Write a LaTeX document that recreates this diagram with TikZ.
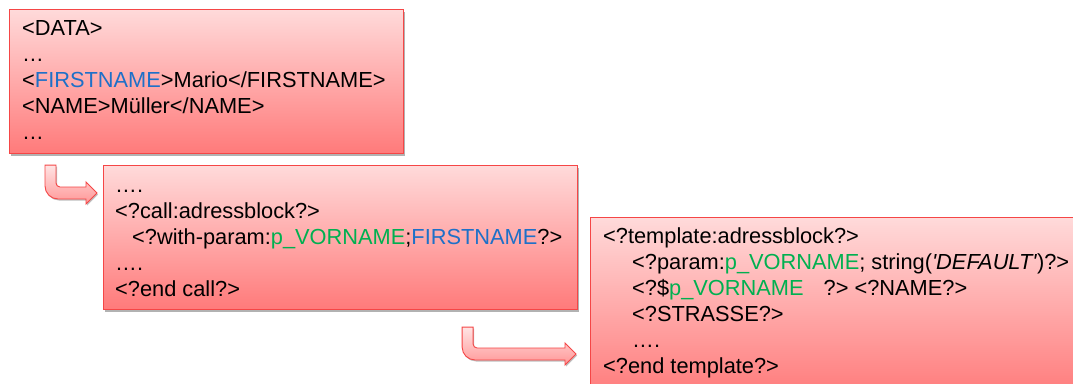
\documentclass[tikz,border=0pt]{standalone}
\usepackage{fontspec}
\setmainfont{Liberation Sans}
\usetikzlibrary{calc,shadows}
\definecolor{boxred}{RGB}{245,70,70}
\definecolor{boxtop}{RGB}{255,218,218}
\definecolor{boxbot}{RGB}{255,122,122}
\definecolor{arrtop}{RGB}{255,228,228}
\definecolor{arrbot}{RGB}{255,150,150}
\definecolor{fnblue}{RGB}{30,112,200}
\definecolor{vngreen}{RGB}{0,176,80}
\newcommand{\blu}[1]{\textcolor{fnblue}{#1}}
\newcommand{\grn}[1]{\textcolor{vngreen}{#1}}
\newcommand{\bentarrow}[2]{%
  \draw[benda] ($(#1)+(-5.5,0)$) -- ($(#1)+(5.5,0)$)
    [rounded corners=4pt] -- ($(#1|-#2)+(5.5,-6)$)
    [sharp corners] -- ($(#2)+(-11,-6)$) -- ($(#2)+(-11,-11)$) -- (#2) -- ($(#2)+(-11,11)$) -- ($(#2)+(-11,6)$)
    [rounded corners=13pt] -- ($(#1|-#2)+(-5.5,6)$)
    [sharp corners] -- ($(#1)+(-5.5,0)$) -- cycle;}
\tikzset{
  codebox/.style={draw=boxred, line width=1.1pt, anchor=north west, inner sep=0,
    top color=boxtop, bottom color=boxbot,
    drop shadow={shadow xshift=1.5pt, shadow yshift=-2pt, opacity=0.3, fill=black}},
  codetext/.style={anchor=north west, inner sep=0, align=left,
    font=\fontsize{21.8}{26}\selectfont},
  benda/.style={draw=boxred, line width=0.9pt, top color=arrtop, bottom color=arrbot,
    drop shadow={shadow xshift=1pt, shadow yshift=-1.5pt, opacity=0.25, fill=black}}
}
\begin{document}
\begin{tikzpicture}[x=1pt, y=-1pt]
\useasboundingbox (0,0) rectangle (1073,383);
\fill[white] (0,0) rectangle (1073,383);

\node[codebox, minimum width=394pt, minimum height=144pt] (data) at (9,9) {};
\node[codebox, minimum width=474pt, minimum height=144pt] (call) at (103,165) {};
\node[codebox, minimum width=495pt, minimum height=180pt] (tmpl) at (590,217) {};

\node[codetext] (datatext) at ($(data.north west)+(13,8)$) {\strut<DATA>\\
…\\
<\blu{FIRSTNAME}>Mario</FIRSTNAME>\\
<NAME>Müller</NAME>\\
…};
\node[codetext] (calltext) at ($(call.north west)+(12,9)$) {\strut….\\
<?call:adressblock?>\\
\hspace*{17pt}<?with-param:\grn{p\_VORNAME};\blu{FIRSTNAME}?>\\
….\\
<?end call?>};
\node[codetext] (tmpltext) at ($(tmpl.north west)+(13,8)$) {\strut<?template:adressblock?>\\
\hspace*{29pt}<?param:\grn{p\_VORNAME}; string(\textit{\textquotesingle DEFAULT\textquotesingle})?>\\
\hspace*{29pt}<?\$\grn{p\_VORNAME}\hspace{14pt} ?> <?NAME?>\\
\hspace*{29pt}<?STRASSE?>\\
\hspace*{29pt}….\\
<?end template?>};

\coordinate (a1s) at ($(data.south west)+(41.5,11)$);
\coordinate (a1t) at ($(call.north west)+(-6,28)$);
\coordinate (a2s) at ($(call.south east)+(-110.5,17)$);
\coordinate (a2t) at ($(tmpl.north west)+(-14,137)$);
\bentarrow{a1s}{a1t}
\bentarrow{a2s}{a2t}
\end{tikzpicture}
\end{document}
